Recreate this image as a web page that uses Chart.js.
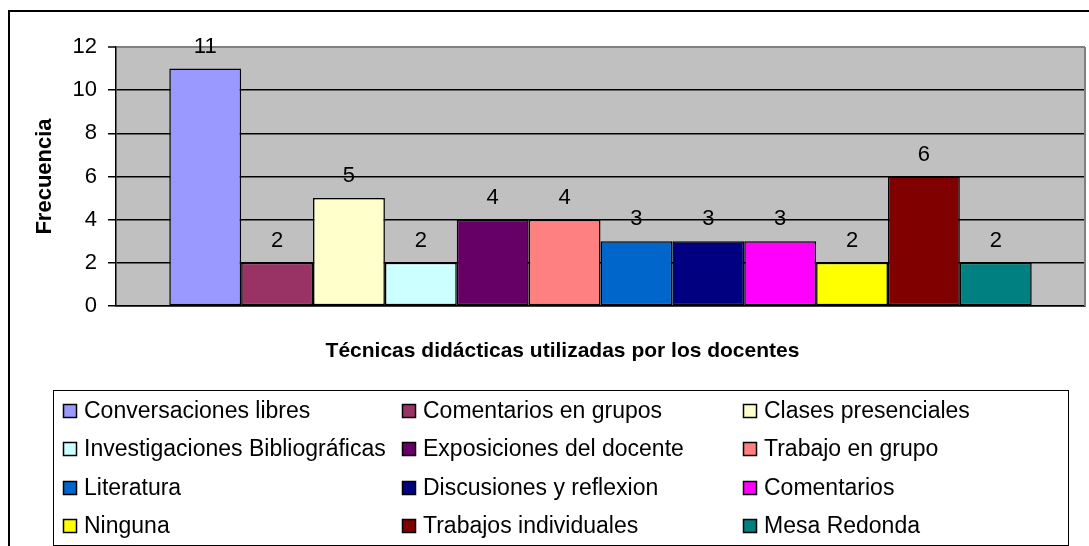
<!DOCTYPE html>
<html>
<head>
<meta charset="utf-8">
<script src="https://cdn.jsdelivr.net/npm/chart.js@4/dist/chart.umd.min.js"></script>
<style>
  body { margin: 0; background: #fff; }
  canvas { display: block; }
</style>
</head>
<body>
<canvas id="chart" width="1089" height="546"></canvas>
<script>
// Chart data
const seriesLabels = [
    'Conversaciones libres', 'Comentarios en grupos', 'Clases presenciales',
    'Investigaciones Bibliográficas', 'Exposiciones del docente', 'Trabajo en grupo',
    'Literatura', 'Discusiones y reflexion', 'Comentarios',
    'Ninguna', 'Trabajos individuales', 'Mesa Redonda'
];
const seriesValues = [11, 2, 5, 2, 4, 4, 3, 3, 3, 2, 6, 2];
const seriesColors = [
    '#9999FF', '#993366', '#FFFFCC', '#CCFFFF', '#660066', '#FF8080',
    '#0066CC', '#000080', '#FF00FF', '#FFFF00', '#800000', '#008080'
];
const yTicks = [0, 2, 4, 6, 8, 10, 12];
const xTitle = 'Técnicas didácticas utilizadas por los docentes';
const yTitle = 'Frecuencia';

const FONT = 'Arial, "Liberation Sans", sans-serif';

// Plot background + outer frame
const backgroundPlugin = {
    id: 'plotBackground',
    beforeDraw(chart) {
        const ctx = chart.ctx;
        const a = chart.chartArea;
        ctx.save();
        ctx.fillStyle = '#fff';
        ctx.fillRect(0, 0, chart.width, chart.height);
        ctx.strokeStyle = '#000';
        ctx.lineWidth = 2;
        ctx.strokeRect(9, 11, chart.width + 20, chart.height + 20);
        ctx.fillStyle = '#C0C0C0';
        ctx.fillRect(a.left, a.top, a.right - a.left, a.bottom - a.top);
        ctx.restore();
    },
    beforeDatasetsDraw(chart) {
        const ctx = chart.ctx;
        const a = chart.chartArea;
        ctx.save();
        ctx.strokeStyle = '#808080';
        ctx.lineWidth = 2;
        ctx.beginPath();
        ctx.moveTo(a.right, a.top);
        ctx.lineTo(a.right, a.bottom);
        ctx.stroke();
        ctx.restore();
    }
};

// Value labels above each bar
const valueLabelPlugin = {
    id: 'valueLabels',
    afterDatasetsDraw(chart) {
        const ctx = chart.ctx;
        ctx.save();
        ctx.fillStyle = '#000';
        ctx.font = '22px ' + FONT;
        ctx.textAlign = 'center';
        ctx.textBaseline = 'middle';
        chart.data.datasets.forEach((ds, i) => {
            const bar = chart.getDatasetMeta(i).data[0];
            ctx.fillText(String(ds.data[0]), bar.x, bar.y - 22);
        });
        ctx.restore();
    }
};

// X title (sits a bit left of the plot centre) + legend box in three columns
const gridLegendPlugin = {
    id: 'gridLegend',
    afterDraw(chart) {
        const ctx = chart.ctx;
        const a = chart.chartArea;
        ctx.save();
        ctx.fillStyle = '#000';
        ctx.font = 'bold 21px ' + FONT;
        ctx.textAlign = 'center';
        ctx.textBaseline = 'middle';
        ctx.fillText(xTitle, (a.left + a.right) / 2 - 38, a.bottom + 45);

        const boxLeft = 53, boxTop = 390, boxRight = 1068, boxBottom = 545;
        const colX = [63, 402, 743];
        const rowY = [411, 449, 488, 526];
        ctx.fillStyle = '#fff';
        ctx.fillRect(boxLeft, boxTop, boxRight - boxLeft, boxBottom - boxTop);
        ctx.strokeStyle = '#000';
        ctx.lineWidth = 1;
        ctx.strokeRect(boxLeft + 0.5, boxTop + 0.5, boxRight - boxLeft, boxBottom - boxTop);
        ctx.font = '23px ' + FONT;
        ctx.textBaseline = 'middle';
        ctx.textAlign = 'left';
        chart.data.datasets.forEach((ds, i) => {
            const x = colX[i % 3];
            const y = rowY[Math.floor(i / 3)];
            ctx.fillStyle = ds.backgroundColor;
            ctx.fillRect(x, y - 7, 14, 14);
            ctx.strokeStyle = '#000';
            ctx.lineWidth = 1.5;
            ctx.strokeRect(x + 0.5, y - 6.5, 13, 13);
            ctx.fillStyle = '#000';
            ctx.fillText(ds.label, x + 21, y + 1);
        });
        ctx.restore();
    }
};

const datasets = seriesLabels.map((label, i) => ({
    label: label,
    data: [seriesValues[i]],
    backgroundColor: seriesColors[i],
    borderColor: '#000',
    borderWidth: 1.5,
    borderSkipped: false
}));

new Chart(document.getElementById('chart'), {
    type: 'bar',
    data: {
        labels: [''],
        datasets: datasets
    },
    options: {
        responsive: false,
        animation: false,
        devicePixelRatio: 1,
        categoryPercentage: 0.89,
        barPercentage: 1.0,
        layout: {
            padding: { top: 47, right: 4, bottom: 180, left: 0 }
        },
        plugins: {
            legend: { display: false },
            tooltip: { enabled: false }
        },
        scales: {
            x: {
                ticks: { display: false },
                grid: { display: false },
                border: { display: true, color: '#000', width: 1.5 },
                title: { display: false },
                afterFit(scale) { scale.height = 60; }
            },
            y: {
                min: 0,
                max: 12,
                afterBuildTicks(scale) {
                    scale.ticks = yTicks.map(v => ({ value: v }));
                },
                ticks: {
                    color: '#000',
                    padding: 11,
                    font: { family: FONT, size: 22 }
                },
                grid: {
                    color: c => (c.tick && c.tick.value === 12 ? '#808080' : '#000'),
                    lineWidth: c => (c.tick && c.tick.value === 12 ? 2 : 1.5),
                    tickColor: '#000',
                    tickLength: 8,
                    tickWidth: 1.5
                },
                border: { display: true, color: '#000', width: 1.5 },
                title: {
                    display: true,
                    text: yTitle,
                    color: '#000',
                    font: { family: FONT, size: 22, weight: 'bold' },
                    padding: { top: 32, bottom: 0 }
                },
                afterFit(scale) { scale.width = 116; }
            }
        }
    },
    plugins: [backgroundPlugin, valueLabelPlugin, gridLegendPlugin]
});
</script>
</body>
</html>
